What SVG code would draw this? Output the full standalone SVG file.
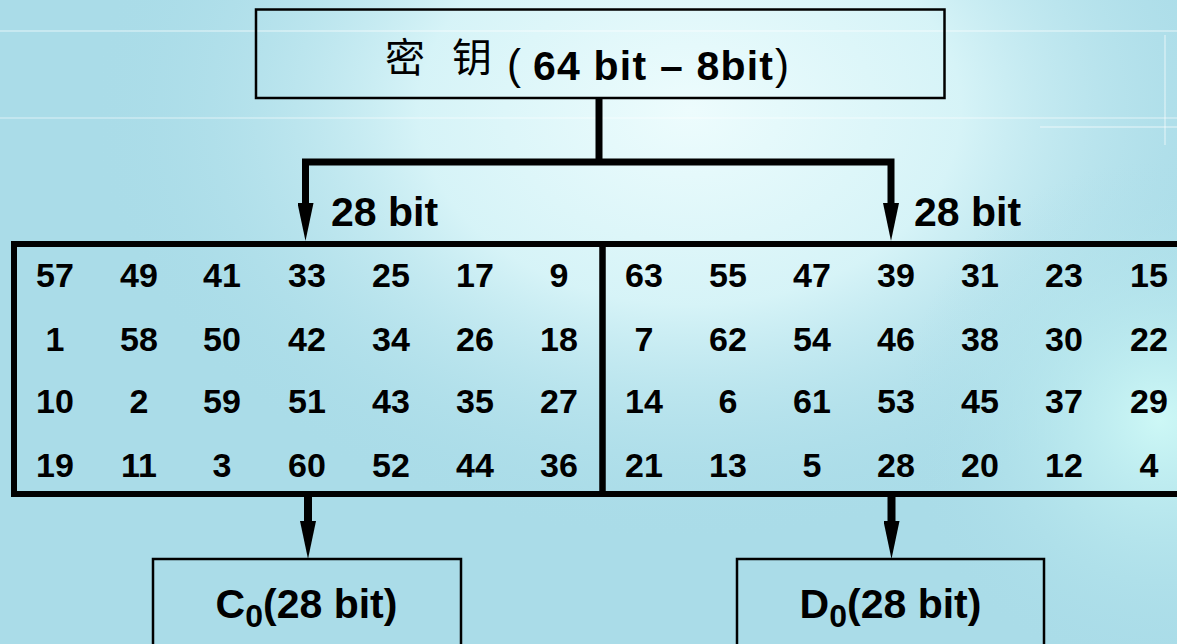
<svg xmlns="http://www.w3.org/2000/svg" width="1177" height="644" viewBox="0 0 1177 644">
  <defs>
    <radialGradient id="hl" gradientUnits="userSpaceOnUse" cx="690" cy="110" r="480" gradientTransform="translate(690 110) scale(1.25 0.9) translate(-690 -110)">
      <stop offset="0" stop-color="#EDFCFD"/>
      <stop offset="0.45" stop-color="#DBF6F9" stop-opacity="0.9"/>
      <stop offset="1" stop-color="#AADCE8" stop-opacity="0"/>
    </radialGradient>
    <radialGradient id="hr" gradientUnits="userSpaceOnUse" cx="1160" cy="420" r="260">
      <stop offset="0" stop-color="#CDF8F6"/>
      <stop offset="1" stop-color="#AADCE8" stop-opacity="0"/>
    </radialGradient>
    <marker id="ah" markerUnits="userSpaceOnUse" viewBox="0 -8 38 16" markerWidth="38" markerHeight="16" refX="0" refY="0" orient="auto">
      <path d="M0,-8 L38,0 L0,8 z" fill="#000"/>
    </marker>
    <style>
      .box { fill: none; stroke: #000; stroke-width: 2.5; }
      .tbl { fill: none; stroke: #000; stroke-width: 6; }
      .con { fill: none; stroke: #000; stroke-linejoin: miter; stroke-linecap: butt; }
      .lat { font-family: "Liberation Sans", Arial, sans-serif; font-weight: bold; fill: #000; }
      .par { font-family: "Liberation Sans", Arial, sans-serif; font-weight: normal; fill: #000; }
      .cjk { font-family: "Noto Sans CJK SC", "Liberation Sans", sans-serif; font-weight: normal; fill: #000; }
      .num { font-family: "Liberation Sans", Arial, sans-serif; font-weight: bold; font-size: 34px; fill: #000; text-anchor: middle; }
    </style>
  </defs>

  <!-- background -->
  <rect x="0" y="0" width="1177" height="644" fill="#AADCE8"/>
  <rect x="0" y="0" width="1177" height="644" fill="url(#hl)"/>
  <rect x="0" y="0" width="1177" height="644" fill="url(#hr)"/>
  <g stroke="#FFFFFF" fill="none">
    <line x1="0" y1="31" x2="1177" y2="31" stroke-opacity="0.35" stroke-width="2"/>
    <line x1="0" y1="118" x2="1177" y2="118" stroke-opacity="0.3" stroke-width="2"/>
    <line x1="1040" y1="127" x2="1177" y2="127" stroke-opacity="0.35" stroke-width="2"/>
    <line x1="1165" y1="35" x2="1165" y2="145" stroke-opacity="0.35" stroke-width="2"/>
  </g>

  <!-- connectors -->
  <g id="connectors">
    <path class="con" d="M599,99 V162" stroke-width="7"/>
    <path class="con" d="M305.5,203 V162 H891 V203" stroke-width="7" marker-end="url(#ah)"/>
    <path class="con" d="M305.5,162 V203" stroke-width="7" marker-end="url(#ah)"/>
    <path class="con" d="M308,494 V521" stroke-width="8" marker-end="url(#ah)"/>
    <path class="con" d="M891.5,494 V521" stroke-width="8" marker-end="url(#ah)"/>
  </g>

  <!-- key node -->
  <g id="key">
    <rect class="box" x="256" y="9.5" width="688.5" height="88.5"/>
    <text class="cjk" y="72" font-size="40"><tspan x="385">密</tspan><tspan x="452">钥</tspan></text>
    <text class="par" y="79" font-size="42"><tspan x="507">(</tspan><tspan x="775">)</tspan></text>
    <text class="lat" x="533" y="80" font-size="41" textLength="240" lengthAdjust="spacing">64 bit – 8bit</text>
  </g>

  <!-- labels -->
  <g id="labels">
    <text class="lat" x="331" y="226" font-size="41">28 bit</text>
    <text class="lat" x="914" y="226" font-size="41">28 bit</text>
  </g>

  <!-- C table -->
  <g id="table-c">
    <rect class="tbl" x="14" y="244" width="588.5" height="250"/>
    <text class="num" y="287"><tspan x="55">57</tspan><tspan x="139">49</tspan><tspan x="222">41</tspan><tspan x="307">33</tspan><tspan x="391">25</tspan><tspan x="475">17</tspan><tspan x="559">9</tspan></text>
    <text class="num" y="351"><tspan x="55">1</tspan><tspan x="139">58</tspan><tspan x="222">50</tspan><tspan x="307">42</tspan><tspan x="391">34</tspan><tspan x="475">26</tspan><tspan x="559">18</tspan></text>
    <text class="num" y="413"><tspan x="55">10</tspan><tspan x="139">2</tspan><tspan x="222">59</tspan><tspan x="307">51</tspan><tspan x="391">43</tspan><tspan x="475">35</tspan><tspan x="559">27</tspan></text>
    <text class="num" y="477"><tspan x="55">19</tspan><tspan x="139">11</tspan><tspan x="222">3</tspan><tspan x="307">60</tspan><tspan x="391">52</tspan><tspan x="475">44</tspan><tspan x="559">36</tspan></text>
  </g>

  <!-- D table -->
  <g id="table-d">
    <rect class="tbl" x="602.5" y="244" width="600" height="250"/>
    <text class="num" y="287"><tspan x="644">63</tspan><tspan x="728">55</tspan><tspan x="812">47</tspan><tspan x="896">39</tspan><tspan x="980">31</tspan><tspan x="1064">23</tspan><tspan x="1149">15</tspan></text>
    <text class="num" y="351"><tspan x="644">7</tspan><tspan x="728">62</tspan><tspan x="812">54</tspan><tspan x="896">46</tspan><tspan x="980">38</tspan><tspan x="1064">30</tspan><tspan x="1149">22</tspan></text>
    <text class="num" y="413"><tspan x="644">14</tspan><tspan x="728">6</tspan><tspan x="812">61</tspan><tspan x="896">53</tspan><tspan x="980">45</tspan><tspan x="1064">37</tspan><tspan x="1149">29</tspan></text>
    <text class="num" y="477"><tspan x="644">21</tspan><tspan x="728">13</tspan><tspan x="812">5</tspan><tspan x="896">28</tspan><tspan x="980">20</tspan><tspan x="1064">12</tspan><tspan x="1149">4</tspan></text>
  </g>

  <!-- C0 node -->
  <g id="c0">
    <rect class="box" x="153" y="559" width="308" height="110"/>
    <text class="lat" x="306.5" y="618" font-size="41" text-anchor="middle">C<tspan font-size="32" dy="9">0</tspan><tspan dy="-9">(28 bit)</tspan></text>
  </g>

  <!-- D0 node -->
  <g id="d0">
    <rect class="box" x="737" y="559" width="307" height="110"/>
    <text class="lat" x="890.5" y="618" font-size="41" text-anchor="middle">D<tspan font-size="32" dy="9">0</tspan><tspan dy="-9">(28 bit)</tspan></text>
  </g>
</svg>
